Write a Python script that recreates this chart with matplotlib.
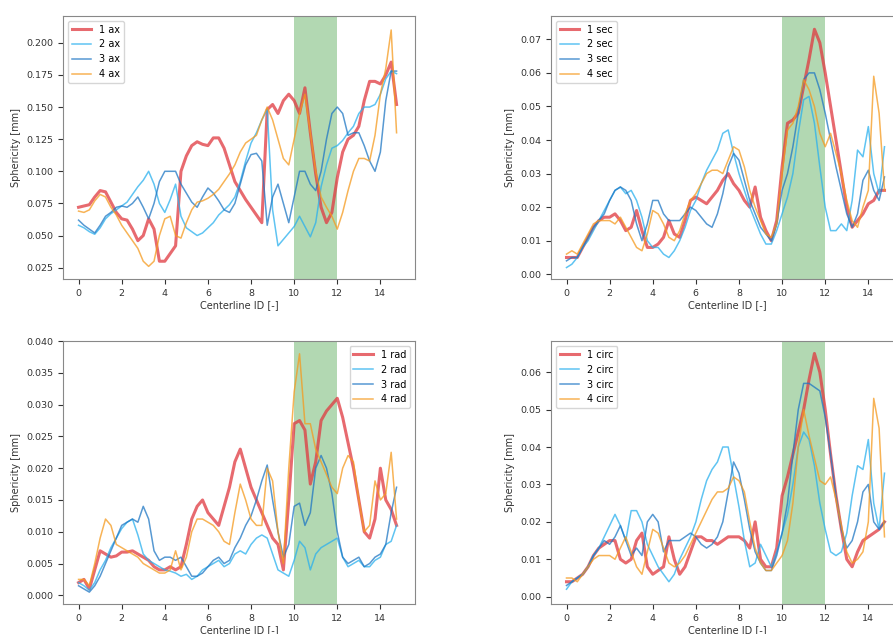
import numpy as np
import matplotlib
matplotlib.use('Agg')
import matplotlib.pyplot as plt

plt.rc('font', family='DejaVu Sans')

# centerline positions, 0.25 apart
centerline_id = np.arange(60) * 0.25

ax_1 = [0.072, 0.073, 0.074, 0.080, 0.085, 0.084, 0.076, 0.068, 0.063, 0.062,
        0.055, 0.046, 0.050, 0.063, 0.055, 0.030, 0.030, 0.036, 0.042, 0.100,
        0.112, 0.120, 0.123, 0.121, 0.120, 0.126, 0.126, 0.118, 0.105, 0.092,
        0.085, 0.078, 0.072, 0.066, 0.060, 0.148, 0.152, 0.145, 0.155, 0.160,
        0.155, 0.145, 0.165, 0.130, 0.098, 0.072, 0.060, 0.068, 0.095, 0.115,
        0.125, 0.128, 0.135, 0.155, 0.170, 0.170, 0.168, 0.175, 0.185, 0.152]
ax_2 = [0.058, 0.056, 0.053, 0.051, 0.056, 0.063, 0.067, 0.070, 0.073, 0.076,
        0.082, 0.088, 0.093, 0.100, 0.090, 0.075, 0.068, 0.078, 0.090, 0.065,
        0.056, 0.053, 0.050, 0.052, 0.056, 0.060, 0.066, 0.070, 0.074, 0.080,
        0.092, 0.108, 0.122, 0.130, 0.140, 0.148, 0.070, 0.042, 0.047, 0.052,
        0.057, 0.065, 0.057, 0.049, 0.060, 0.088, 0.105, 0.118, 0.120, 0.124,
        0.130, 0.135, 0.145, 0.150, 0.150, 0.152, 0.160, 0.172, 0.178, 0.176]
ax_3 = [0.062, 0.058, 0.055, 0.052, 0.058, 0.065, 0.068, 0.072, 0.073, 0.072,
        0.075, 0.080, 0.072, 0.063, 0.075, 0.092, 0.100, 0.100, 0.100, 0.090,
        0.083, 0.076, 0.072, 0.080, 0.087, 0.083, 0.077, 0.070, 0.068, 0.075,
        0.090, 0.105, 0.113, 0.114, 0.108, 0.058, 0.080, 0.090, 0.075, 0.060,
        0.080, 0.100, 0.100, 0.090, 0.085, 0.100, 0.125, 0.145, 0.150, 0.145,
        0.128, 0.130, 0.130, 0.120, 0.108, 0.100, 0.115, 0.155, 0.178, 0.178]
ax_4 = [0.069, 0.068, 0.070, 0.077, 0.082, 0.080, 0.072, 0.066, 0.058, 0.052,
        0.046, 0.040, 0.030, 0.026, 0.030, 0.050, 0.063, 0.065, 0.050, 0.048,
        0.060, 0.070, 0.076, 0.077, 0.079, 0.082, 0.086, 0.092, 0.098, 0.105,
        0.115, 0.122, 0.125, 0.128, 0.140, 0.150, 0.140, 0.125, 0.110, 0.105,
        0.125, 0.145, 0.160, 0.130, 0.100, 0.080, 0.072, 0.065, 0.055, 0.068,
        0.085, 0.100, 0.110, 0.110, 0.108, 0.128, 0.160, 0.180, 0.210, 0.130]

sec_1 = [0.005, 0.005, 0.005, 0.008, 0.011, 0.014, 0.016, 0.017, 0.017, 0.018,
         0.016, 0.013, 0.014, 0.019, 0.013, 0.008, 0.008, 0.009, 0.011, 0.016,
         0.012, 0.011, 0.016, 0.022, 0.023, 0.022, 0.021, 0.023, 0.025, 0.028,
         0.030, 0.027, 0.025, 0.022, 0.020, 0.026, 0.017, 0.013, 0.010, 0.016,
         0.032, 0.045, 0.046, 0.048, 0.056, 0.064, 0.073, 0.069, 0.060, 0.050,
         0.040, 0.030, 0.020, 0.014, 0.016, 0.018, 0.021, 0.022, 0.025, 0.025]
sec_2 = [0.002, 0.003, 0.005, 0.008, 0.010, 0.013, 0.016, 0.019, 0.022, 0.025,
         0.026, 0.024, 0.025, 0.022, 0.017, 0.010, 0.008, 0.008, 0.006, 0.005,
         0.007, 0.010, 0.014, 0.019, 0.022, 0.027, 0.031, 0.034, 0.037, 0.042,
         0.043, 0.036, 0.030, 0.025, 0.020, 0.016, 0.012, 0.009, 0.009, 0.013,
         0.018, 0.023, 0.030, 0.042, 0.052, 0.053, 0.045, 0.032, 0.020, 0.013,
         0.013, 0.015, 0.013, 0.022, 0.037, 0.035, 0.044, 0.030, 0.024, 0.038]
sec_3 = [0.004, 0.005, 0.005, 0.008, 0.011, 0.014, 0.016, 0.018, 0.022, 0.025,
         0.026, 0.025, 0.022, 0.015, 0.010, 0.015, 0.022, 0.022, 0.018, 0.016,
         0.016, 0.016, 0.018, 0.020, 0.019, 0.017, 0.015, 0.014, 0.018, 0.024,
         0.032, 0.036, 0.034, 0.028, 0.022, 0.018, 0.014, 0.012, 0.010, 0.015,
         0.025, 0.030, 0.038, 0.048, 0.058, 0.060, 0.060, 0.055, 0.048, 0.040,
         0.032, 0.025, 0.018, 0.014, 0.018, 0.028, 0.031, 0.025, 0.022, 0.029]
sec_4 = [0.006, 0.007, 0.006, 0.009, 0.012, 0.015, 0.016, 0.016, 0.016, 0.015,
         0.017, 0.014, 0.011, 0.008, 0.007, 0.012, 0.019, 0.018, 0.015, 0.011,
         0.010, 0.013, 0.018, 0.022, 0.024, 0.027, 0.030, 0.031, 0.031, 0.030,
         0.034, 0.038, 0.037, 0.032, 0.025, 0.020, 0.016, 0.012, 0.011, 0.015,
         0.030, 0.043, 0.045, 0.050, 0.058, 0.055, 0.050, 0.042, 0.038, 0.042,
         0.036, 0.030, 0.022, 0.016, 0.014, 0.020, 0.025, 0.059, 0.048, 0.025]

rad_1 = [0.0020, 0.0025, 0.0010, 0.0040, 0.0070, 0.0065, 0.0060, 0.0062, 0.0068, 0.0068,
         0.0070, 0.0065, 0.0060, 0.0055, 0.0045, 0.0040, 0.0040, 0.0045, 0.0040, 0.0045,
         0.0080, 0.0120, 0.0140, 0.0150, 0.0130, 0.0120, 0.0110, 0.0140, 0.0170, 0.0210,
         0.0230, 0.0200, 0.0170, 0.0150, 0.0130, 0.0110, 0.0090, 0.0080, 0.0040, 0.0150,
         0.0270, 0.0275, 0.0260, 0.0175, 0.0210, 0.0275, 0.0290, 0.0300, 0.0310, 0.0280,
         0.0240, 0.0200, 0.0150, 0.0100, 0.0090, 0.0120, 0.0200, 0.0150, 0.0135, 0.0110]
rad_2 = [0.0020, 0.0015, 0.0008, 0.0020, 0.0040, 0.0055, 0.0075, 0.0090, 0.0105, 0.0115,
         0.0120, 0.0095, 0.0065, 0.0055, 0.0050, 0.0045, 0.0040, 0.0038, 0.0035, 0.0030,
         0.0033, 0.0025, 0.0030, 0.0040, 0.0045, 0.0050, 0.0055, 0.0045, 0.0050, 0.0065,
         0.0070, 0.0065, 0.0080, 0.0090, 0.0095, 0.0090, 0.0065, 0.0040, 0.0035, 0.0030,
         0.0055, 0.0085, 0.0075, 0.0040, 0.0065, 0.0075, 0.0080, 0.0085, 0.0090, 0.0060,
         0.0045, 0.0050, 0.0055, 0.0045, 0.0045, 0.0055, 0.0060, 0.0080, 0.0085, 0.0110]
rad_3 = [0.0015, 0.0010, 0.0005, 0.0015, 0.0030, 0.0050, 0.0070, 0.0090, 0.0110, 0.0115,
         0.0120, 0.0115, 0.0140, 0.0120, 0.0070, 0.0055, 0.0060, 0.0060, 0.0055, 0.0060,
         0.0045, 0.0030, 0.0030, 0.0035, 0.0045, 0.0055, 0.0060, 0.0050, 0.0055, 0.0075,
         0.0090, 0.0110, 0.0125, 0.0150, 0.0180, 0.0205, 0.0150, 0.0100, 0.0060, 0.0080,
         0.0140, 0.0145, 0.0110, 0.0130, 0.0200, 0.0220, 0.0200, 0.0160, 0.0100, 0.0060,
         0.0050, 0.0055, 0.0060, 0.0045, 0.0050, 0.0060, 0.0065, 0.0080, 0.0130, 0.0170]
rad_4 = [0.0025, 0.0025, 0.0015, 0.0050, 0.0090, 0.0120, 0.0110, 0.0080, 0.0075, 0.0070,
         0.0065, 0.0060, 0.0050, 0.0045, 0.0040, 0.0035, 0.0035, 0.0040, 0.0070, 0.0040,
         0.0060, 0.0100, 0.0120, 0.0120, 0.0115, 0.0110, 0.0100, 0.0085, 0.0080, 0.0130,
         0.0175, 0.0150, 0.0120, 0.0110, 0.0110, 0.0200, 0.0180, 0.0100, 0.0050, 0.0200,
         0.0320, 0.0380, 0.0270, 0.0270, 0.0230, 0.0210, 0.0190, 0.0170, 0.0160, 0.0200,
         0.0220, 0.0210, 0.0150, 0.0100, 0.0110, 0.0180, 0.0150, 0.0160, 0.0225, 0.0120]

circ_1 = [0.004, 0.004, 0.005, 0.006, 0.008, 0.011, 0.013, 0.014, 0.015, 0.015,
          0.010, 0.009, 0.010, 0.015, 0.017, 0.008, 0.006, 0.007, 0.008, 0.016,
          0.010, 0.006, 0.008, 0.012, 0.016, 0.016, 0.015, 0.015, 0.014, 0.015,
          0.016, 0.016, 0.016, 0.015, 0.013, 0.020, 0.010, 0.008, 0.008, 0.013,
          0.027, 0.032, 0.038, 0.044, 0.050, 0.058, 0.065, 0.060, 0.050, 0.038,
          0.027, 0.018, 0.010, 0.008, 0.012, 0.015, 0.016, 0.017, 0.018, 0.020]
circ_2 = [0.002, 0.004, 0.005, 0.006, 0.008, 0.011, 0.013, 0.016, 0.019, 0.022,
          0.019, 0.015, 0.023, 0.023, 0.020, 0.014, 0.011, 0.008, 0.006, 0.004,
          0.006, 0.010, 0.013, 0.016, 0.020, 0.026, 0.031, 0.034, 0.036, 0.040,
          0.040, 0.032, 0.024, 0.015, 0.008, 0.009, 0.014, 0.011, 0.008, 0.012,
          0.017, 0.022, 0.030, 0.040, 0.044, 0.042, 0.035, 0.025, 0.018, 0.012,
          0.011, 0.012, 0.017, 0.027, 0.035, 0.034, 0.042, 0.025, 0.018, 0.033]
circ_3 = [0.003, 0.004, 0.005, 0.006, 0.008, 0.011, 0.013, 0.015, 0.014, 0.016,
          0.019, 0.015, 0.011, 0.013, 0.011, 0.020, 0.022, 0.020, 0.012, 0.015,
          0.015, 0.015, 0.016, 0.017, 0.016, 0.014, 0.013, 0.014, 0.016, 0.020,
          0.028, 0.036, 0.033, 0.026, 0.018, 0.012, 0.009, 0.007, 0.007, 0.011,
          0.017, 0.025, 0.038, 0.050, 0.057, 0.057, 0.056, 0.055, 0.048, 0.038,
          0.027, 0.018, 0.013, 0.015, 0.020, 0.028, 0.030, 0.020, 0.018, 0.020]
circ_4 = [0.005, 0.005, 0.004, 0.006, 0.008, 0.010, 0.011, 0.011, 0.011, 0.010,
          0.013, 0.016, 0.012, 0.008, 0.006, 0.012, 0.018, 0.017, 0.013, 0.009,
          0.008, 0.009, 0.011, 0.014, 0.017, 0.020, 0.023, 0.026, 0.028, 0.028,
          0.029, 0.032, 0.031, 0.028, 0.020, 0.013, 0.009, 0.007, 0.007, 0.009,
          0.011, 0.015, 0.025, 0.040, 0.050, 0.043, 0.037, 0.031, 0.030, 0.032,
          0.026, 0.019, 0.012, 0.009, 0.010, 0.012, 0.020, 0.053, 0.045, 0.016]

# highlighted segment of the centerline
region_start, region_end = 10, 12

colors = ['#e0383f', '#2ab0ee', '#1f77c4', '#f59a1e']
widths = [2.2, 1.1, 1.1, 1.1]


def plot_panel(ax, series, name, legend_loc, ylim):
    for i, values in enumerate(series):
        ax.plot(centerline_id, values, color=colors[i], lw=widths[i],
                alpha=0.75, label='%d %s' % (i + 1, name))
    ax.axvspan(region_start, region_end, color='green', alpha=0.3, lw=0)
    ax.set_xlim(-0.72, 15.6)
    ax.set_ylim(*ylim)
    ax.set_xticks([0, 2, 4, 6, 8, 10, 12, 14])
    ax.tick_params(labelsize=6.8, colors='#333333')
    ax.set_xlabel('Centerline ID [-]', fontsize=7, color='#333333', labelpad=1.5)
    ax.set_ylabel('Sphericity [mm]', fontsize=7, color='#333333')
    for spine in ax.spines.values():
        spine.set_color('#888888')
    ax.legend(loc=legend_loc, fontsize=7)


fig = plt.figure(figsize=(8.93, 6.34), dpi=100)
ax_tl = fig.add_axes([0.0706, 0.560, 0.394, 0.415])
ax_tr = fig.add_axes([0.617, 0.560, 0.394, 0.415])
ax_bl = fig.add_axes([0.0706, 0.047, 0.394, 0.415])
ax_br = fig.add_axes([0.617, 0.047, 0.394, 0.415])

plot_panel(ax_tl, [ax_1, ax_2, ax_3, ax_4], 'ax', 'upper left', (0.0162, 0.221))
plot_panel(ax_tr, [sec_1, sec_2, sec_3, sec_4], 'sec', 'upper left', (-0.0014, 0.077))
plot_panel(ax_bl, [rad_1, rad_2, rad_3, rad_4], 'rad', 'upper right', (-0.0014, 0.040))
plot_panel(ax_br, [circ_1, circ_2, circ_3, circ_4], 'circ', 'upper left', (-0.002, 0.0683))

fig.savefig('out.png', dpi=100)
